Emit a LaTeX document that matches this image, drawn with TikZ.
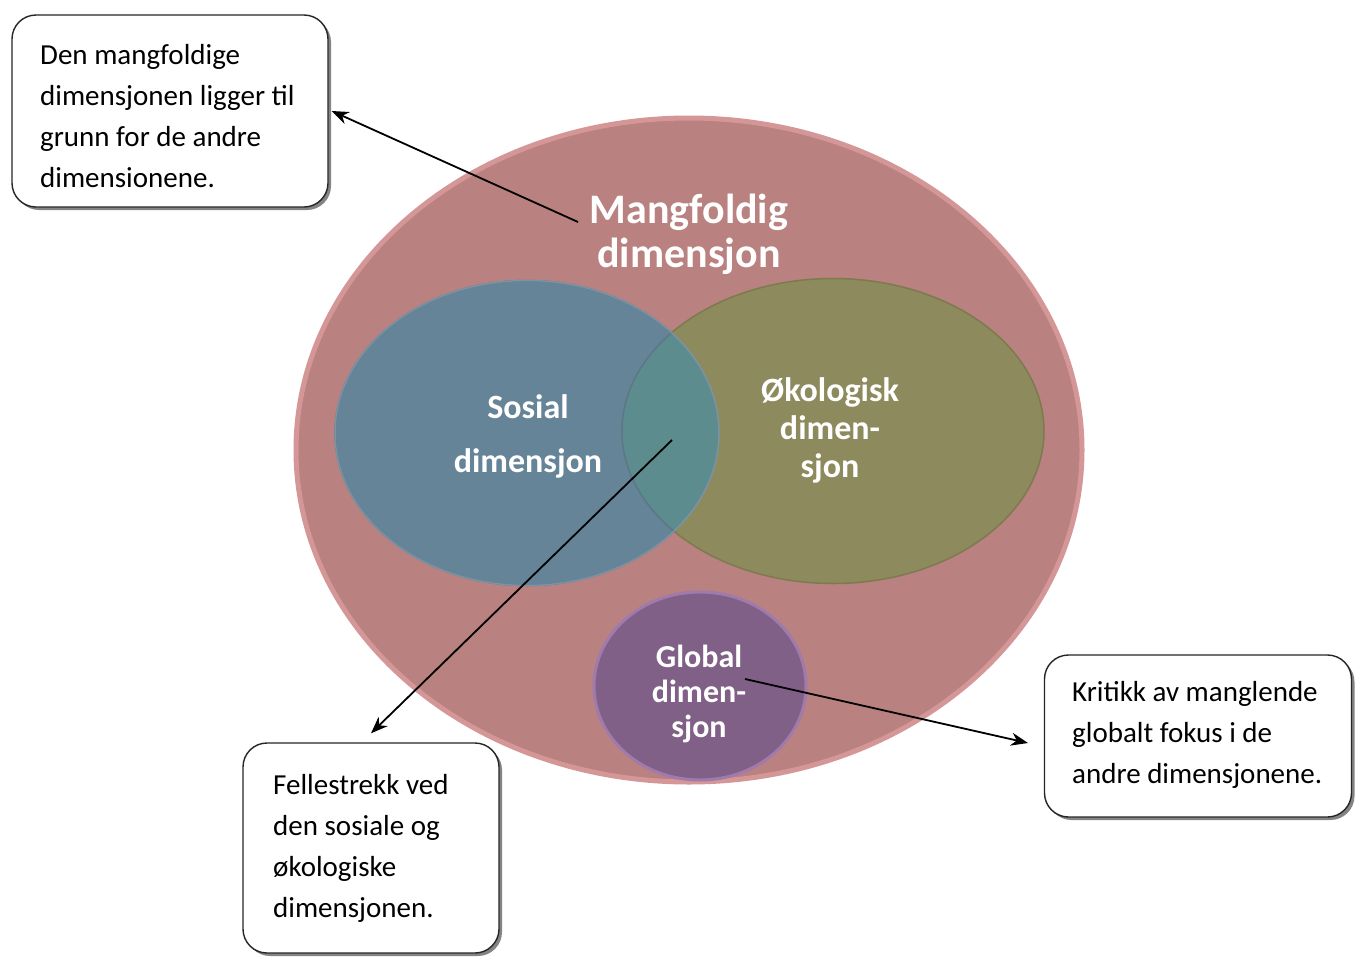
\documentclass[tikz,border=0pt]{standalone}
\usepackage{fontspec}
\setmainfont{Carlito}
\usetikzlibrary{shapes.geometric,shadows,arrows.meta}
\definecolor{mangfill}{RGB}{185,129,128}
\definecolor{mangedge}{RGB}{212,150,150}
\definecolor{sosfill}{RGB}{102,132,152}
\definecolor{sosedge}{RGB}{90,120,140}
\definecolor{okofill}{RGB}{141,138,93}
\definecolor{okoedge}{RGB}{125,122,80}
\definecolor{overlap}{RGB}{92,140,142}
\definecolor{globfill}{RGB}{128,96,135}
\definecolor{globedge}{RGB}{160,122,172}
\begin{document}
\begin{tikzpicture}[x=1pt,y=-1pt,
  callout/.style={draw=black!85, line width=1.4pt, rounded corners=24pt, fill=white,
    drop shadow={shadow xshift=3pt, shadow yshift=-3pt, fill=black!60, opacity=0.8}},
  btext/.style={anchor=west, align=left, font=\fontsize{29}{41}\selectfont, inner sep=0pt},
  lbl/.style={text=white, align=center, inner sep=0pt},
  arr/.style={-{Stealth[length=17pt,width=13pt]}, line width=1.8pt},
  blob/.style={ellipse, inner sep=0pt}
]
\useasboundingbox (0,0) rectangle (1355,956);
\fill[white] (0,0) rectangle (1355,956);

% big ellipse
\node[blob, minimum width=786pt, minimum height=664pt, fill=mangfill, draw=mangedge, line width=5pt] (mang) at (689,450) {};
% sosial and okologisk
\node[blob, minimum width=384pt, minimum height=305pt, fill=sosfill, draw=sosedge, line width=1.5pt] (sos) at (527,433) {};
\node[blob, minimum width=422pt, minimum height=305pt, fill=okofill, draw=okoedge, line width=1.5pt] (oko) at (833,431) {};
\begin{scope}
  \clip (sos.center) ellipse [x radius=192pt, y radius=152.5pt];
  \fill[overlap] (oko.center) ellipse [x radius=211pt, y radius=152.5pt];
  \draw[sosedge, line width=1.5pt] (oko.center) ellipse [x radius=211pt, y radius=152.5pt];
\end{scope}
\draw[sosedge!80, line width=1.5pt] (sos.center) ellipse [x radius=192pt, y radius=152.5pt];
% global
\node[blob, minimum width=212pt, minimum height=188pt, fill=globfill, draw=globedge, line width=3pt] (glob) at (700,686) {};

% labels
\node[lbl, font=\bfseries\fontsize{42}{44}\selectfont] (tmang) at (689,234) {Mangfoldig\\dimensjon};
\node[lbl, font=\bfseries\fontsize{34}{54}\selectfont] (tsos) at (528,436) {Sosial\\dimensjon};
\node[lbl, font=\bfseries\fontsize{34}{38}\selectfont] (toko) at (830,430) {Økologisk\\dimen-\\sjon};
\node[lbl, font=\bfseries\fontsize{32}{35}\selectfont] (tglob) at (699,694) {Global\\dimen-\\sjon};

% callout boxes
\node[callout, minimum width=316pt, minimum height=192pt] (box1) at (170,111) {};
\node[btext] (t1) at (40,116) {Den mangfoldige\\dimensjonen ligger til\\grunn for de andre\\dimensionene.};
\node[callout, minimum width=256pt, minimum height=210pt] (box2) at (371,848) {};
\node[btext] (t2) at (273,848) {Fellestrekk ved\\den sosiale og\\økologiske\\dimensjonen.};
\node[callout, minimum width=307pt, minimum height=162pt] (box3) at (1198,736) {};
\node[btext] (t3) at (1072,735) {Kritikk av manglende\\globalt fokus i de\\andre dimensjonene.};

% arrows
\coordinate (a1) at (578,222);
\coordinate (a2) at (672,440);
\coordinate (a3) at (745,679);
\coordinate (e3) at (1028,743);
\draw[arr] (a1) -- ([xshift=3pt]box1.east);
\draw[arr] (a2) -- ([yshift=9pt]box2.north);
\draw[arr] (a3) -- (e3);
\end{tikzpicture}
\end{document}
